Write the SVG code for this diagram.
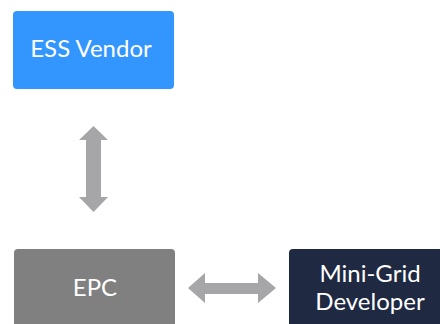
<svg xmlns="http://www.w3.org/2000/svg" width="440" height="324" viewBox="0 0 440 324">
  <style>
    .box-label { font-family: Lato, "Open Sans", "Liberation Sans", sans-serif; font-size: 24px; fill: #ffffff; text-anchor: middle; }
    .arrow { fill: #a6a6a9; }
  </style>
  <rect width="440" height="324" fill="#ffffff"/>

  <g id="ess-vendor">
    <rect x="13" y="11" width="161" height="78" rx="4" fill="#3396ff"/>
    <text class="box-label" x="91" y="57">ESS Vendor</text>
  </g>

  <g id="epc">
    <rect x="14" y="249" width="161" height="90" rx="4" fill="#808080"/>
    <text class="box-label" x="95" y="296">EPC</text>
  </g>

  <g id="mini-grid-developer">
    <rect x="289" y="249" width="161" height="90" rx="4" fill="#1f2942"/>
    <text class="box-label" x="370" y="282">Mini-Grid</text>
    <text class="box-label" x="370" y="310">Developer</text>
  </g>

  <g id="connectors">
    <!-- ESS Vendor <-> EPC -->
    <polygon class="arrow" points="93.5,126 108,140 101,140 101,197 108,197 93.5,212 79,197 86,197 86,140 79,140"/>
    <!-- EPC <-> Mini-Grid Developer -->
    <polygon class="arrow" points="188,288 205,273 205,283 258,283 258,273 276,288 258,303 258,294 205,294 205,303"/>
  </g>
</svg>
